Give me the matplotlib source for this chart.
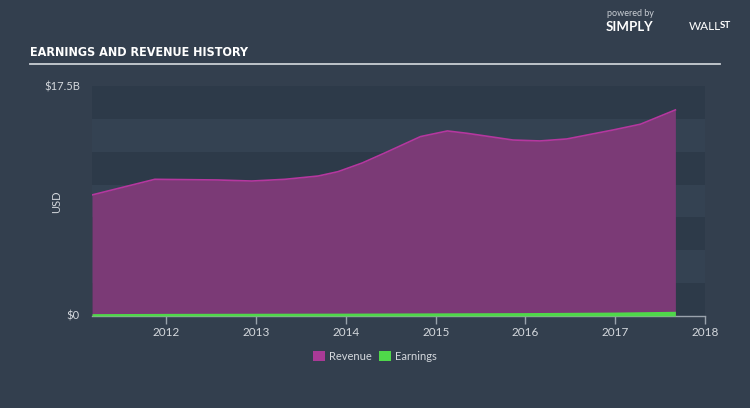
import matplotlib.pyplot as plt
from matplotlib.patches import Rectangle

# Data, values in $B
rev_years = [2011.17, 2011.87, 2012.57, 2012.95, 2013.32, 2013.69, 2013.91, 2014.18,
             2014.44, 2014.83, 2015.13, 2015.35, 2015.86, 2016.16, 2016.46, 2016.98,
             2017.28, 2017.67]
revenue = [9.21, 10.40, 10.35, 10.27, 10.40, 10.65, 10.98, 11.64,
           12.43, 13.65, 14.08, 13.90, 13.39, 13.32, 13.47, 14.16,
           14.59, 15.68]
earn_years = [2011.17, 2012.0, 2013.0, 2014.0, 2015.0, 2016.0, 2017.0, 2017.67]
earnings = [0.18, 0.20, 0.21, 0.22, 0.24, 0.26, 0.30, 0.36]
xticks = [2012, 2013, 2014, 2015, 2016, 2017, 2018]

BG = "#333f4e"
DARK = "#2d3a49"
REV_FILL = "#7b3a76"
REV_LINE = "#b5379f"
EARN = "#4fd84a"
TXT = "#d4d8dd"

fig = plt.figure(figsize=(7.5, 4.08), dpi=100, facecolor=BG)
ax = fig.add_axes([92 / 750, 92 / 408, 613 / 750, 230 / 408])
ax.set_facecolor("#344252")

# alternating horizontal bands, 2.5B each
for i in range(7):
    if i % 2 == 0:
        ax.axhspan(i * 2.5, (i + 1) * 2.5, color=DARK, lw=0, zorder=0)

ax.fill_between(rev_years, 0, revenue, color=REV_FILL, lw=0, zorder=2)
ax.plot(rev_years, revenue, color=REV_LINE, lw=1.2, zorder=3)
ax.fill_between(earn_years, 0, earnings, color=EARN, lw=0, zorder=4)

ax.set_xlim(2011.17, 2018)
ax.set_ylim(0, 17.5)
ax.set_yticks([])
ax.set_xticks(xticks)
ax.set_xticklabels([str(y) for y in xticks], fontsize=8.5, color=TXT, family="Lato")
ax.tick_params(axis="x", colors="#9aa3ad", length=6, width=1, pad=2, labelcolor=TXT)
for s in ["top", "left", "right"]:
    ax.spines[s].set_visible(False)
ax.spines["bottom"].set_color("#9aa3ad")
ax.spines["bottom"].set_linewidth(1)

# y labels
fig.text(80 / 750, 1 - 87 / 408, "$17.5B", ha="right", va="center", fontsize=8, color=TXT, family="Lato")
fig.text(80 / 750, 1 - 316 / 408, "$0", ha="right", va="center", fontsize=8, color=TXT, family="Lato")
fig.text(57 / 750, 1 - 202 / 408, "USD", ha="center", va="center", rotation=90, fontsize=8, color=TXT, family="Lato")

# title and rule
fig.text(30 / 750, 1 - 53 / 408, "EARNINGS AND REVENUE HISTORY", ha="left", va="center",
         fontsize=9, fontweight="bold", fontstretch="condensed", color="white",
         family=["DejaVu Sans"])
fig.add_artist(plt.Line2D([30 / 750, 720 / 750], [1 - 64 / 408] * 2, color="#c9ced4", lw=1.3))

# logo text
fig.text(607 / 750, 1 - 14 / 408, "powered by", ha="left", va="center", fontsize=6.5, color="#c9ced4", family="Lato")
fig.text(606 / 750, 1 - 27 / 408, "SIMPLY", ha="left", va="center", fontsize=9.5, fontweight="bold", color="white", family="Lato")
fig.text(689 / 750, 1 - 27 / 408, "WALL", ha="left", va="center", fontsize=8.5, color="white", family="Lato")
fig.text(720 / 750, 1 - 26 / 408, "ST", ha="left", va="center", fontsize=7, fontweight="bold", color="white", family="Lato")

# legend
for x0, col, label in [(313, "#a93a96", "Revenue"), (379, EARN, "Earnings")]:
    fig.add_artist(Rectangle((x0 / 750, 1 - 361 / 408), 12 / 750, 10 / 408,
                             transform=fig.transFigure, color=col, lw=0))
    fig.text((x0 + 16) / 750, 1 - 356 / 408, label, ha="left", va="center", fontsize=8, color=TXT, family="Lato")

fig.savefig("out.png", dpi=100, facecolor=BG)
